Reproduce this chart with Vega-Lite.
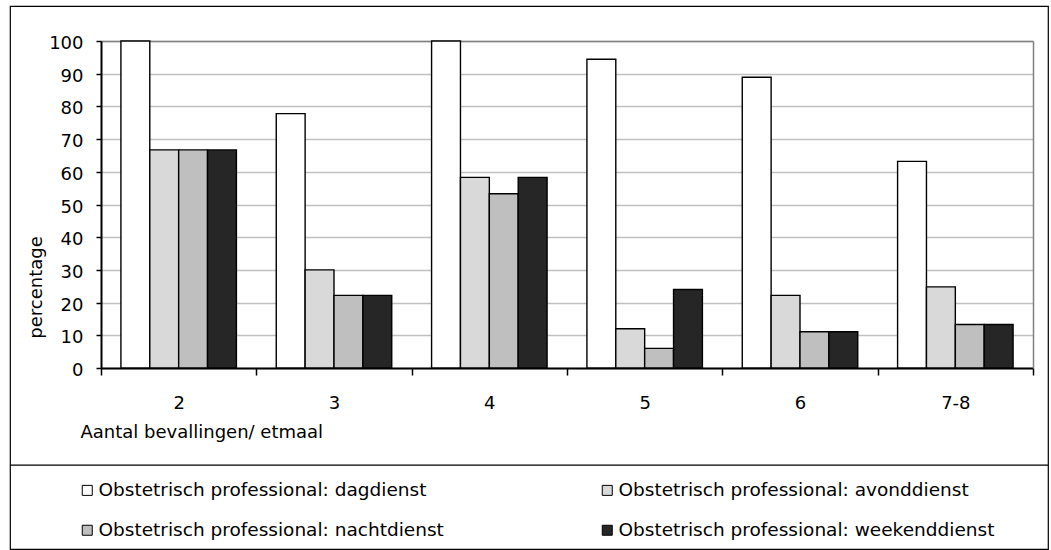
{
  "$schema": "https://vega.github.io/schema/vega-lite/v6.json",
  "width": 1038,
  "height": 543,
  "autosize": {"type": "none"},
  "padding": {"left": 10, "top": 6, "right": 3, "bottom": 1},
  "background": "white",
  "config": {
    "font": "DejaVu Sans",
    "view": {"stroke": "#000", "strokeWidth": 1.2},
    "axis": {"labelFont": "DejaVu Sans", "titleFont": "DejaVu Sans", "labelColor": "#000", "titleColor": "#000", "labelFontSize": 18, "titleFontSize": 18, "titleFontWeight": "normal"}
  },
  "data": {"values": [
    {"cat": "2", "serie": "Obstetrisch professional: dagdienst", "pct": 100},
    {"cat": "2", "serie": "Obstetrisch professional: avonddienst", "pct": 66.7},
    {"cat": "2", "serie": "Obstetrisch professional: nachtdienst", "pct": 66.7},
    {"cat": "2", "serie": "Obstetrisch professional: weekenddienst", "pct": 66.7},
    {"cat": "3", "serie": "Obstetrisch professional: dagdienst", "pct": 77.8},
    {"cat": "3", "serie": "Obstetrisch professional: avonddienst", "pct": 30},
    {"cat": "3", "serie": "Obstetrisch professional: nachtdienst", "pct": 22.2},
    {"cat": "3", "serie": "Obstetrisch professional: weekenddienst", "pct": 22.2},
    {"cat": "4", "serie": "Obstetrisch professional: dagdienst", "pct": 100},
    {"cat": "4", "serie": "Obstetrisch professional: avonddienst", "pct": 58.3},
    {"cat": "4", "serie": "Obstetrisch professional: nachtdienst", "pct": 53.3},
    {"cat": "4", "serie": "Obstetrisch professional: weekenddienst", "pct": 58.3},
    {"cat": "5", "serie": "Obstetrisch professional: dagdienst", "pct": 94.4},
    {"cat": "5", "serie": "Obstetrisch professional: avonddienst", "pct": 12},
    {"cat": "5", "serie": "Obstetrisch professional: nachtdienst", "pct": 6},
    {"cat": "5", "serie": "Obstetrisch professional: weekenddienst", "pct": 24},
    {"cat": "6", "serie": "Obstetrisch professional: dagdienst", "pct": 88.9},
    {"cat": "6", "serie": "Obstetrisch professional: avonddienst", "pct": 22.2},
    {"cat": "6", "serie": "Obstetrisch professional: nachtdienst", "pct": 11.1},
    {"cat": "6", "serie": "Obstetrisch professional: weekenddienst", "pct": 11.1},
    {"cat": "7-8", "serie": "Obstetrisch professional: dagdienst", "pct": 63.2},
    {"cat": "7-8", "serie": "Obstetrisch professional: avonddienst", "pct": 24.8},
    {"cat": "7-8", "serie": "Obstetrisch professional: nachtdienst", "pct": 13.3},
    {"cat": "7-8", "serie": "Obstetrisch professional: weekenddienst", "pct": 13.3}
  ]},
  "layer": [
    {
      "mark": {"type": "bar", "stroke": "#000", "strokeWidth": 1.4},
      "encoding": {
        "x": {
          "field": "cat", "type": "nominal", "sort": ["2", "3", "4", "5", "6", "7-8"],
          "scale": {"paddingInner": 0, "paddingOuter": 0, "range": [91, 1023]},
          "axis": {"orient": "bottom", "offset": -181, "labelAngle": 0, "tickBand": "extent", "tickSize": 7, "tickColor": "#000", "tickWidth": 1.5, "domainColor": "#000", "domainWidth": 2, "labelPadding": 19, "title": "Aantal bevallingen/ etmaal", "titleAnchor": "start", "titleX": 70, "titleY": 69, "titleBaseline": "alphabetic", "titleAlign": "left"}
        },
        "xOffset": {"field": "serie", "type": "nominal", "sort": ["Obstetrisch professional: dagdienst", "Obstetrisch professional: avonddienst", "Obstetrisch professional: nachtdienst", "Obstetrisch professional: weekenddienst"], "scale": {"paddingInner": 0, "paddingOuter": 0.69}},
        "y": {
          "field": "pct", "type": "quantitative",
          "scale": {"domain": [0, 100], "nice": false, "range": [362, 35]},
          "axis": {"orient": "left", "offset": -91, "values": [0, 10, 20, 30, 40, 50, 60, 70, 80, 90, 100], "grid": true, "gridColor": "#c0c0c0", "gridWidth": 1.5, "tickSize": 5, "tickColor": "#000", "tickWidth": 1.5, "domainColor": "#000", "domainWidth": 2, "labelPadding": 13, "labelOffset": 2.5, "title": "percentage", "titleX": -65, "titleY": 281, "titleAlign": "center", "titleBaseline": "middle", "titleAngle": -90}
        },
        "color": {
          "field": "serie", "type": "nominal",
          "scale": {"domain": ["Obstetrisch professional: dagdienst", "Obstetrisch professional: nachtdienst", "Obstetrisch professional: avonddienst", "Obstetrisch professional: weekenddienst"], "range": ["#ffffff", "#bfbfbf", "#d9d9d9", "#262626"]},
          "legend": {"orient": "none", "legendX": 68, "legendY": 475, "columns": 2, "columnPadding": 154, "rowPadding": 21, "title": null, "symbolType": "square", "symbolSize": 100, "symbolStrokeColor": "#000", "symbolStrokeWidth": 1, "symbolOpacity": 1, "labelFont": "DejaVu Sans", "labelFontSize": 18.5, "labelColor": "#000", "labelOffset": 2, "labelLimit": 600, "padding": 0}
        }
      }
    },
    {
      "mark": {"type": "bar", "opacity": 0},
      "encoding": {
        "x": {"field": "cat", "type": "nominal", "sort": ["2", "3", "4", "5", "6", "7-8"],
          "axis": {"orient": "top", "offset": -35, "domainColor": "#808080", "domainWidth": 1.5, "ticks": false, "labels": false, "title": null, "grid": false}},
        "xOffset": {"field": "serie", "type": "nominal", "sort": ["Obstetrisch professional: dagdienst", "Obstetrisch professional: avonddienst", "Obstetrisch professional: nachtdienst", "Obstetrisch professional: weekenddienst"]},
        "y": {"field": "pct", "type": "quantitative",
          "axis": {"orient": "right", "offset": -15, "domainColor": "#808080", "domainWidth": 1.5, "ticks": false, "labels": false, "title": null, "grid": false}}
      }
    },
    {
      "data": {"values": [{"scheiding": "legenda"}]},
      "mark": {"type": "rule", "color": "#000", "strokeWidth": 1.2},
      "encoding": {"y": {"datum": -29.7, "type": "quantitative", "axis": null}}
    }
  ],
  "resolve": {"axis": {"x": "independent", "y": "independent"}}
}
